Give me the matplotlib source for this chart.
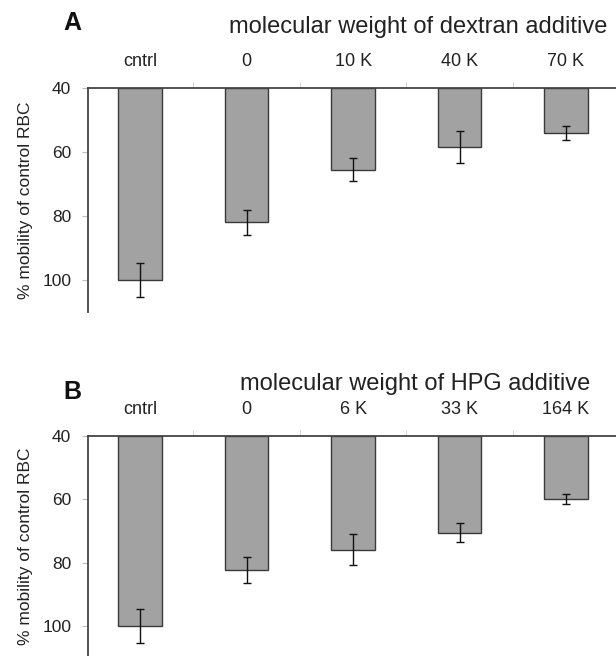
import numpy as np
import matplotlib
matplotlib.use("Agg")
import matplotlib.pyplot as plt

plt.rcParams['font.family'] = ['Liberation Sans', 'DejaVu Sans']

# panel A: dextran additive
dex_labels = ['cntrl', '0', '10 K', '40 K', '70 K']
dex_mobility = [100.0, 82.0, 65.5, 58.4, 54.1]
dex_err = [5.3, 3.9, 3.7, 5.0, 2.1]

# panel B: HPG additive
hpg_labels = ['cntrl', '0', '6 K', '33 K', '164 K']
hpg_mobility = [100.0, 82.3, 76.0, 70.5, 59.8]
hpg_err = [5.5, 4.0, 4.9, 3.0, 1.6]

yticks = [40, 60, 80, 100]
base = 40

W, H = 616, 656
fig = plt.figure(figsize=(W / 100, H / 100), dpi=100)

def panel(rect, labels, vals, errs, ylim_bottom):
    ax = fig.add_axes(rect)
    x = np.arange(len(labels))
    heights = [v - base for v in vals]
    ax.bar(x, heights, bottom=base, width=0.41, color='#a2a2a2',
           edgecolor='#3a3a3a', linewidth=1.0, zorder=2)
    ax.errorbar(x, vals, yerr=errs, fmt='none', ecolor='#111111',
                elinewidth=1.0, capsize=3, capthick=1.0, zorder=3)
    ax.set_ylim(ylim_bottom, base)
    ax.set_xlim(-0.49, 4.47)
    ax.set_yticks(yticks)
    ax.tick_params(axis='y', direction='out', length=4, color='#bbbbbb',
                   labelsize=12.5, labelcolor='#222222', pad=8)
    ax.xaxis.tick_top()
    ax.set_xticks(x)
    ax.set_xticklabels(labels)
    ax.set_xticks(x[:-1] + 0.5, minor=True)
    ax.tick_params(axis='x', which='major', length=0, labelsize=13,
                   labelcolor='#222222', pad=13)
    ax.tick_params(axis='x', which='minor', direction='out', length=4,
                   color='#cccccc')
    for s in ['right', 'bottom']:
        ax.spines[s].set_visible(False)
    for s in ['top', 'left']:
        ax.spines[s].set_color('#444444')
        ax.spines[s].set_linewidth(1.3)
    ax.set_ylabel('% mobility of control RBC', fontsize=12.5, color='#222222',
                  labelpad=7)
    return ax

axA = panel([88 / W, 1 - 312 / H, 1 - 88 / W, 224 / H], dex_labels,
            dex_mobility, dex_err, 110)
axB = panel([88 / W, 0.0, 1 - 88 / W, 220 / H], hpg_labels,
            hpg_mobility, hpg_err, 109.5)

fig.text(418 / W, 1 - 27 / H, 'molecular weight of dextran additive',
         ha='center', va='center', fontsize=17, color='#222222')
fig.text(72 / W, 1 - 23 / H, 'A', ha='center', va='center',
         fontsize=18, fontweight='bold', color='#111111')
fig.text(415 / W, 1 - 384 / H, 'molecular weight of HPG additive',
         ha='center', va='center', fontsize=17, color='#222222')
fig.text(72 / W, 1 - 392 / H, 'B', ha='center', va='center',
         fontsize=18, fontweight='bold', color='#111111')

fig.savefig('out.png', dpi=100)
